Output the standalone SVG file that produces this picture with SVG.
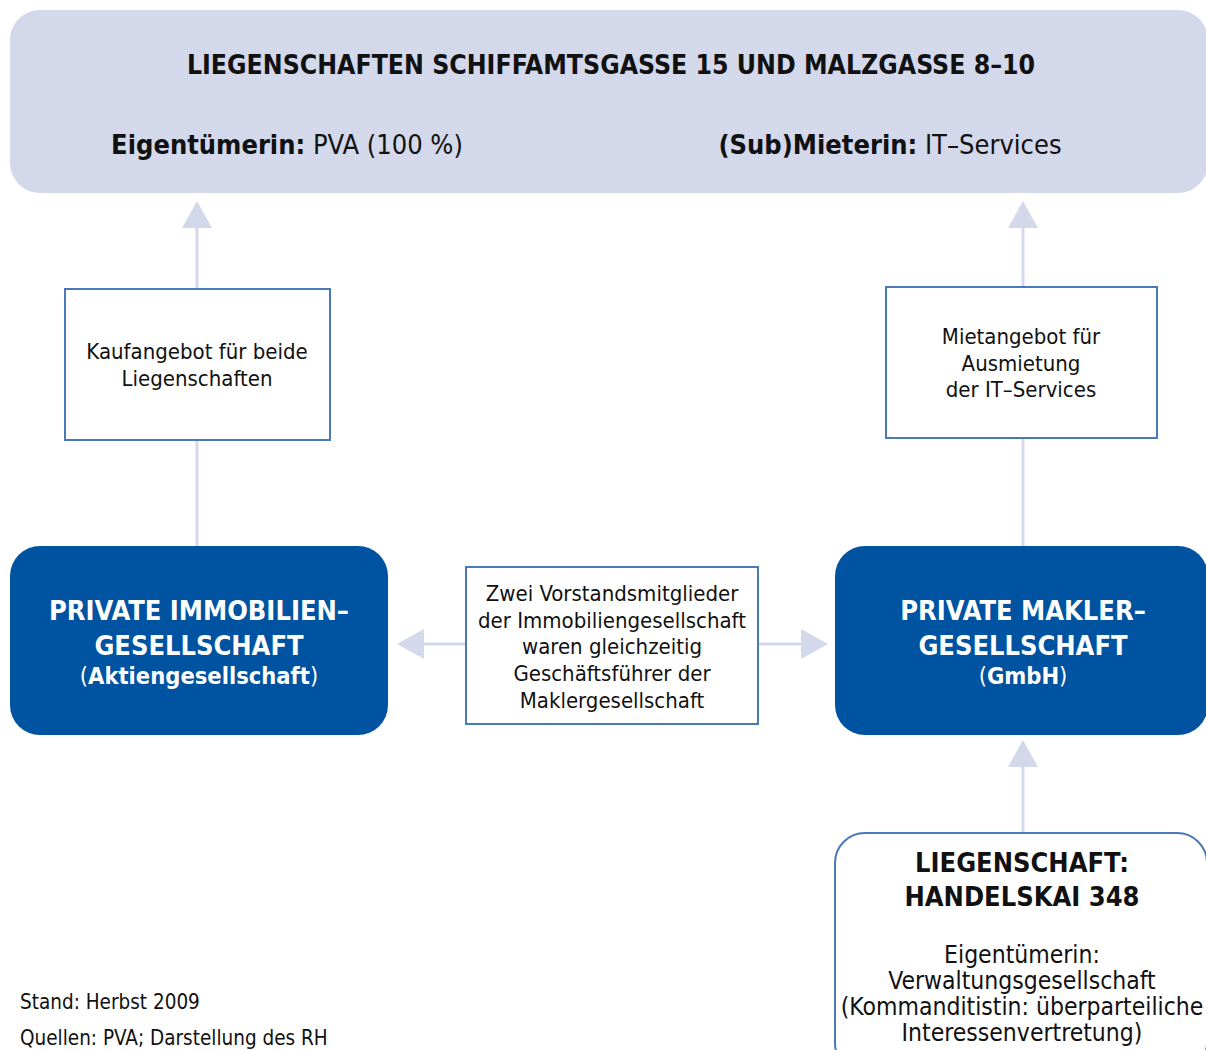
<svg xmlns="http://www.w3.org/2000/svg" width="1206" height="1050" viewBox="0 0 1206 1050">
<defs>
<style>
text{font-family:"DejaVu Sans Condensed","DejaVu Sans","Liberation Sans",sans-serif;fill:#111;text-anchor:middle}
.b{font-weight:bold}
.w{fill:#fff}
.s{font-size:22px}
.m{font-size:23.5px}
.bm{font-size:24.5px}
.l{font-size:27px}
.t{font-size:26.4px}
.light{fill:#d3d8eb}
.dark{fill:#0053a0}
.box{fill:#fff;stroke:#4a78b8;stroke-width:2}
.conn{stroke:#d3d8eb;stroke-width:3;fill:none}
.head{fill:#d3d8eb}
.foot{font-size:20.5px;text-anchor:start}
</style>
</defs>
<rect width="1206" height="1050" fill="#fff"/>

<g id="connectors">
<line class="conn" x1="197" y1="226" x2="197" y2="290"/>
<polygon class="head" points="197,201 182,228 212,228"/>
<line class="conn" x1="197" y1="440" x2="197" y2="546"/>
<line class="conn" x1="1023" y1="226" x2="1023" y2="287"/>
<polygon class="head" points="1023,201 1008,228 1038,228"/>
<line class="conn" x1="1023" y1="438" x2="1023" y2="546"/>
<line class="conn" x1="422" y1="644" x2="466" y2="644"/>
<polygon class="head" points="397,644 424,629 424,659"/>
<line class="conn" x1="758" y1="644" x2="802" y2="644"/>
<polygon class="head" points="828,644 801,629 801,659"/>
<line class="conn" x1="1023" y1="765" x2="1023" y2="833"/>
<polygon class="head" points="1023,740 1008,767 1038,767"/>
</g>

<g id="top">
<rect class="light" x="10" y="10" width="1198" height="183" rx="30"/>
<text class="b t" x="611" y="74">LIEGENSCHAFTEN SCHIFFAMTSGASSE 15 UND MALZGASSE 8–10</text>
<text class="l" x="287" y="154"><tspan class="b">Eigentümerin:</tspan> PVA (100 %)</text>
<text class="l" x="890" y="154"><tspan class="b">(Sub)Mieterin:</tspan> IT–Services</text>
</g>

<g id="kaufangebot">
<rect class="box" x="65" y="289" width="265" height="151"/>
<text class="s" x="197" y="359">Kaufangebot für beide</text>
<text class="s" x="197" y="386">Liegenschaften</text>
</g>

<g id="mietangebot">
<rect class="box" x="886" y="287" width="271" height="151"/>
<text class="s" x="1021" y="344">Mietangebot für</text>
<text class="s" x="1021" y="371">Ausmietung</text>
<text class="s" x="1021" y="397">der IT–Services</text>
</g>

<g id="immobilien">
<rect class="dark" x="10" y="546" width="378" height="189" rx="30"/>
<text class="b w l" x="199" y="620">PRIVATE IMMOBILIEN–</text>
<text class="b w l" x="199" y="655">GESELLSCHAFT</text>
<text class="w m" x="199" y="684">(<tspan class="b">Aktiengesellschaft</tspan>)</text>
</g>

<g id="vorstand">
<rect class="box" x="466" y="567" width="292" height="157"/>
<text class="s" x="612" y="601">Zwei Vorstandsmitglieder</text>
<text class="s" x="612" y="628">der Immobiliengesellschaft</text>
<text class="s" x="612" y="654">waren gleichzeitig</text>
<text class="s" x="612" y="681">Geschäftsführer der</text>
<text class="s" x="612" y="708">Maklergesellschaft</text>
</g>

<g id="makler">
<rect class="dark" x="835" y="546" width="373" height="189" rx="30"/>
<text class="b w l" x="1023" y="620">PRIVATE MAKLER–</text>
<text class="b w l" x="1023" y="655">GESELLSCHAFT</text>
<text class="w m" x="1023" y="684">(<tspan class="b">GmbH</tspan>)</text>
</g>

<g id="handelskai">
<rect class="box" x="835" y="833" width="372" height="240" rx="30"/>
<text class="b l" x="1022" y="872">LIEGENSCHAFT:</text>
<text class="b l" x="1022" y="906">HANDELSKAI 348</text>
<text class="bm" x="1022" y="963">Eigentümerin:</text>
<text class="bm" x="1022" y="989">Verwaltungsgesellschaft</text>
<text class="bm" x="1022" y="1015">(Kommanditistin: überparteiliche</text>
<text class="bm" x="1022" y="1041">Interessenvertretung)</text>
</g>

<g id="footer">
<text class="foot" x="20" y="1009">Stand: Herbst 2009</text>
<text class="foot" x="20" y="1045">Quellen: PVA; Darstellung des RH</text>
</g>
</svg>
